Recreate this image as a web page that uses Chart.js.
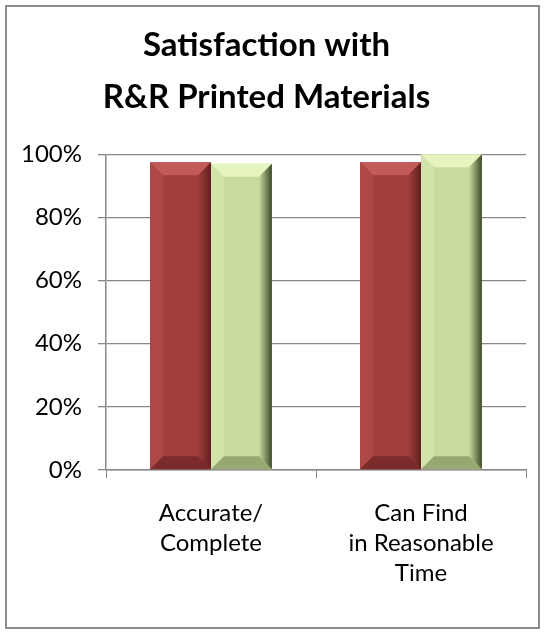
<!DOCTYPE html>
<html>
<head>
<meta charset="utf-8">
<script src="https://cdn.jsdelivr.net/npm/chart.js@4/dist/chart.umd.min.js"></script>
<style>
  html, body { margin: 0; padding: 0; background: #fff; }
  #box {
    position: absolute; left: 5px; top: 5px;
    width: 531px; height: 620px;
    border: 2px solid #8c8c8c;
  }
  #chart { display: block; }
</style>
</head>
<body>
<div id="box"><canvas id="chart" width="531" height="620"></canvas></div>
<script>
const categories = [["Accurate/", "Complete"], ["Can Find", "in Reasonable", "Time"]];
const seriesRed = [97.5, 97.5];
const seriesGreen = [97, 100];
const yTicks = [0, 20, 40, 60, 80, 100];

const palette = {
  red:   { main: "#a03e3c", top: "#c25a57", left: "#ad4846", right: "#5e1f1e", bottom: "#7a2b2a" },
  green: { main: "#c9dc9f", top: "#e6f5bf", left: "#d3e4aa", right: "#3d4a29", bottom: "#98a872" }
};

// bevel look drawn on top of each bar, using the bar's own geometry
const bevel = {
  id: "bevel",
  afterDatasetsDraw(chart) {
    const ctx = chart.ctx;
    chart.data.datasets.forEach((ds, i) => {
      const meta = chart.getDatasetMeta(i);
      const c = palette[ds.tone];
      meta.data.forEach(bar => {
        const w = bar.width;
        const x0 = bar.x - w / 2, x1 = bar.x + w / 2;
        const y0 = bar.y, y1 = bar.base;
        const b = Math.min(13, w * 0.22);
        ctx.save();
        // top
        ctx.fillStyle = c.top;
        ctx.beginPath();
        ctx.moveTo(x0, y0); ctx.lineTo(x1, y0); ctx.lineTo(x1 - b, y0 + b); ctx.lineTo(x0 + b, y0 + b);
        ctx.closePath(); ctx.fill();
        // left
        ctx.fillStyle = c.left;
        ctx.beginPath();
        ctx.moveTo(x0, y0); ctx.lineTo(x0 + b, y0 + b); ctx.lineTo(x0 + b, y1 - b); ctx.lineTo(x0, y1);
        ctx.closePath(); ctx.fill();
        // right
        const gr = ctx.createLinearGradient(x1 - b, 0, x1, 0);
        gr.addColorStop(0, c.main);
        gr.addColorStop(1, c.right);
        ctx.fillStyle = gr;
        ctx.beginPath();
        ctx.moveTo(x1, y0); ctx.lineTo(x1, y1); ctx.lineTo(x1 - b, y1 - b); ctx.lineTo(x1 - b, y0 + b);
        ctx.closePath(); ctx.fill();
        // bottom
        ctx.fillStyle = c.bottom;
        ctx.beginPath();
        ctx.moveTo(x0, y1); ctx.lineTo(x0 + b, y1 - b); ctx.lineTo(x1 - b, y1 - b); ctx.lineTo(x1, y1);
        ctx.closePath(); ctx.fill();
        ctx.restore();
      });
    });
  }
};

const ctx = document.getElementById("chart").getContext("2d");
new Chart(ctx, {
  type: "bar",
  data: {
    labels: categories,
    datasets: [
      { label: "Series 1", tone: "red", data: seriesRed, backgroundColor: palette.red.main,
        borderWidth: 0, barPercentage: 1, categoryPercentage: 0.58 },
      { label: "Series 2", tone: "green", data: seriesGreen, backgroundColor: palette.green.main,
        borderWidth: 0, barPercentage: 1, categoryPercentage: 0.58 }
    ]
  },
  options: {
    responsive: false,
    animation: false,
    layout: { padding: { left: 0, right: 12, top: 0, bottom: 0 } },
    plugins: {
      legend: { display: false },
      tooltip: { enabled: false },
      title: {
        display: true,
        text: ["Satisfaction with", "R&R Printed Materials"],
        color: "#000",
        font: { family: "Lato", size: 33, weight: "bold", lineHeight: 1.58 },
        padding: { top: 12, bottom: 31 }
      }
    },
    scales: {
      x: {
        grid: { display: true, drawOnChartArea: false, drawTicks: true, tickLength: 8, color: "#888", offset: true },
        border: { color: "#888", width: 1.5 },
        ticks: { color: "#000", padding: 20, maxRotation: 0, autoSkip: false,
          font: { family: "Lato", size: 24, lineHeight: 1.25 } },
        afterFit(scale) { scale.height = 157; }
      },
      y: {
        min: 0, max: 100,
        afterBuildTicks(scale) { scale.ticks = yTicks.map(v => ({ value: v })); },
        grid: { color: "#888", lineWidth: 1.3, tickLength: 8 },
        border: { color: "#888", width: 1.5 },
        ticks: { color: "#000", padding: 16, callback: v => v + "%",
          font: { family: "Lato", size: 24 } },
        afterFit(scale) { scale.width = 99; }
      }
    }
  },
  plugins: [bevel]
});
</script>
</body>
</html>
